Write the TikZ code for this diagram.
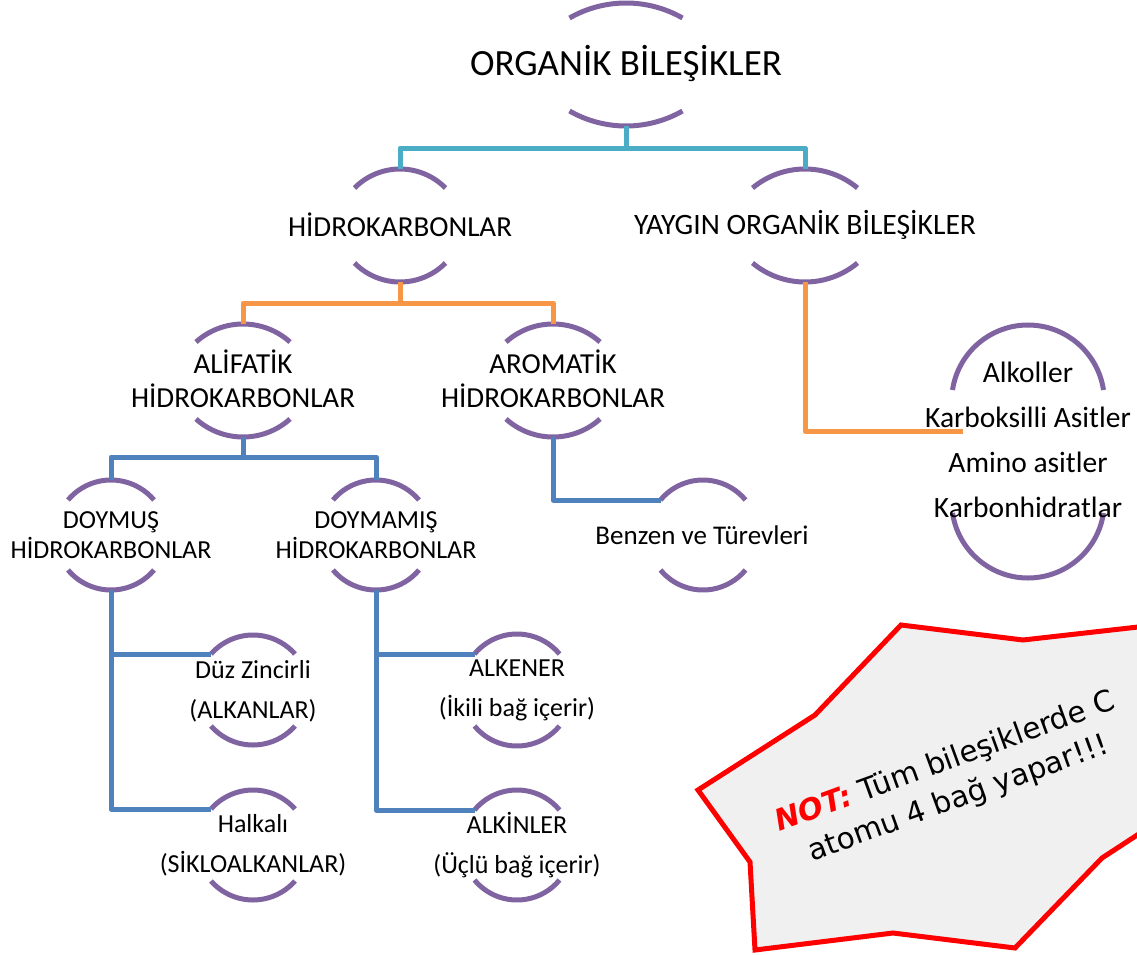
\documentclass[tikz,border=0pt]{standalone}
\usepackage{fontspec}
\setmainfont{Carlito}
\newfontfamily\notefont{DejaVu Sans}
\definecolor{arcpurple}{HTML}{8064A2}
\definecolor{lteal}{HTML}{4BACC6}
\definecolor{lorange}{HTML}{F79646}
\definecolor{lblue}{HTML}{4F81BD}
\definecolor{starfill}{HTML}{F0F0F0}
\newcommand{\brackets}[6]{%
  \pgfmathsetmacro\bphi{2*atan(#6/#5)}%
  \pgfmathsetmacro\brad{#5/sin(\bphi)}%
  \coordinate (#1-t) at (#2,#3);
  \coordinate (#1-b) at (#2,#4);
  \coordinate (#1-l) at (#2-#5,#3+#6);
  \draw[arcpen] (#2-#5,#3+#6) arc[start angle=270-\bphi, end angle=270+\bphi, radius=\brad];
  \draw[arcpen] (#2-#5,#4-#6) arc[start angle=90+\bphi, end angle=90-\bphi, radius=\brad];
}
\begin{document}
\begin{tikzpicture}[x=1pt,y=-1pt,
  arcpen/.style={draw=arcpurple, line width=5pt},
  conn/.style={line width=5pt, line join=round},
  lbl/.style={align=center, inner sep=0pt, text=black},
  fA/.style={font=\fontsize{37}{44}\selectfont},
  fB/.style={font=\fontsize{29}{34}\selectfont},
  fC/.style={font=\fontsize{26}{30}\selectfont},
  fD/.style={font=\fontsize{26}{40}\selectfont},
  fE/.style={font=\fontsize{29.5}{45}\selectfont}]
\useasboundingbox (0,0) rectangle (1137,955);

% bracket shapes of the nodes
\brackets{org}{626}{3}{126}{56.5}{15}
\brackets{hid}{400}{169}{282}{45.5}{19}
\brackets{yay}{805}{169}{282}{52.5}{19}
\brackets{ali}{243}{324}{437}{47}{18}
\brackets{aro}{553}{324}{437}{47}{18}
\brackets{doy}{111}{480}{590}{43}{20}
\brackets{dmm}{376}{480}{590}{43}{20}
\brackets{ben}{703}{480}{590}{42.5}{20}
\brackets{duz}{253}{635}{745}{42}{19}
\brackets{hal}{253}{790}{900}{42}{19}
\brackets{alke}{517}{634}{746}{42.5}{20}
\brackets{alki}{517}{790}{900}{42.5}{20}
\brackets{alk}{1028}{325}{578}{75.5}{65}
\coordinate (alk-in) at (963,431);

% connectors
\draw[conn, lteal] (org-b) -- ++(0,22) -| (hid-t);
\draw[conn, lteal] (org-b) -- ++(0,22) -| (yay-t);
\draw[conn, lorange] (hid-b) -- ++(0,21) -| (ali-t);
\draw[conn, lorange] (hid-b) -- ++(0,21) -| (aro-t);
\draw[conn, lorange] (yay-b) |- (alk-in);
\draw[conn, lblue] (ali-b) -- ++(0,20) -| (doy-t);
\draw[conn, lblue] (ali-b) -- ++(0,20) -| (dmm-t);
\draw[conn, lblue] (aro-b) |- (ben-l);
\draw[conn, lblue] (doy-b) |- (duz-l);
\draw[conn, lblue] (doy-b) |- (hal-l);
\draw[conn, lblue] (dmm-b) |- (alke-l);
\draw[conn, lblue] (dmm-b) |- (alki-l);

% labels
\node[lbl, fA] (orgT) at (626,64) {ORGANİK BİLEŞİKLER};
\node[lbl, fB] (hidT) at (400,225) {HİDROKARBONLAR};
\node[lbl, font=\fontsize{29.6}{34}\selectfont] (yayT) at (805,225) {YAYGIN ORGANİK BİLEŞİKLER};
\node[lbl, fB] (aliT) at (243,379) {ALİFATİK\\HİDROKARBONLAR};
\node[lbl, fB] (aroT) at (553,379) {AROMATİK\\HİDROKARBONLAR};
\node[lbl, fC] (doyT) at (111,535) {DOYMUŞ\\HİDROKARBONLAR};
\node[lbl, fC] (dmmT) at (376,535) {DOYMAMIŞ\\HİDROKARBONLAR};
\node[lbl, font=\fontsize{27}{30}\selectfont] (benT) at (702,535) {Benzen ve Türevleri};
\node[lbl, fD] (duzT) at (253,691) {Düz Zincirli\\(ALKANLAR)};
\node[lbl, fD] (halT) at (253,845) {Halkalı\\(SİKLOALKANLAR)};
\node[lbl, fD] (alkeT) at (517,690) {ALKENER\\(İkili bağ içerir)};
\node[lbl, fD] (alkiT) at (517,845) {ALKİNLER\\(Üçlü bağ içerir)};
\node[lbl, fE] (alkT) at (1028,440) {Alkoller\\Karboksilli Asitler\\Amino asitler\\Karbonhidratlar};

% note star
\begin{scope}
\clip (0,0) rectangle (1137,955);
\draw[draw=red, fill=starfill, line width=5pt, line join=miter]
  (901,625) -- (1023,640) -- (1200,620) -- (1200,794) -- (1102,858) -- (1015,948)
  -- (893,933) -- (755,950) -- (750,862) -- (698,790) -- (815,715) -- cycle;
\end{scope}
\node[lbl, rotate=20, font=\notefont\fontsize{29.5}{39}\selectfont] (note) at (952,781)
  {{\bfseries\itshape\color{red}NOT:} Tüm bileşiklerde C\\atomu 4 bağ yapar!!!};
\end{tikzpicture}
\end{document}
